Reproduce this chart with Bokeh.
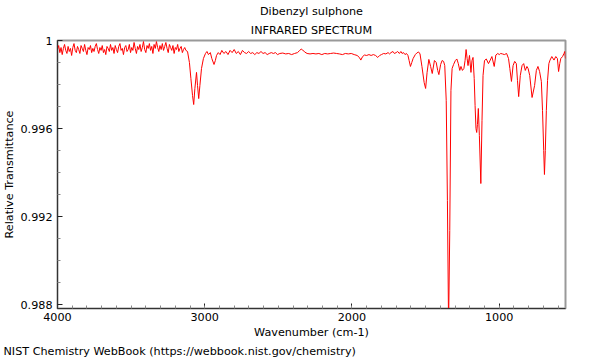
from bokeh.plotting import figure
from bokeh.models import Range1d, FixedTicker, NumeralTickFormatter, Title
from bokeh.embed import file_html
from bokeh.resources import INLINE

# ---- data ----
wavenumber = [
    4000, 3992, 3984, 3976, 3968, 3960, 3952, 3944, 3936, 3928,
    3920, 3912, 3904, 3896, 3888, 3880, 3872, 3864, 3856, 3848,
    3840, 3832, 3824, 3816, 3808, 3800, 3792, 3784, 3776, 3768,
    3760, 3752, 3744, 3736, 3728, 3720, 3712, 3704, 3696, 3688,
    3680, 3672, 3664, 3656, 3648, 3640, 3632, 3624, 3616, 3608,
    3600, 3592, 3584, 3576, 3568, 3560, 3552, 3544, 3536, 3528,
    3520, 3512, 3504, 3496, 3488, 3480, 3472, 3464, 3456, 3448,
    3440, 3432, 3424, 3416, 3408, 3400, 3392, 3384, 3376, 3368,
    3360, 3352, 3344, 3336, 3328, 3320, 3312, 3304, 3296, 3288,
    3280, 3272, 3264, 3256, 3248, 3240, 3232, 3224, 3216, 3208,
    3200, 3192, 3184, 3176, 3168, 3160, 3152, 3144, 3136, 3128,
    3117, 3104, 3094, 3083, 3075, 3067, 3056, 3049, 3041, 3033, 3022, 3009, 2995, 2985, 2975, 2962,
    2952, 2937, 2928, 2920, 2908, 2896,
    2884, 2870, 2856, 2842, 2828, 2814, 2800, 2786, 2772, 2758, 2744, 2730, 2716, 2702, 2688, 2674,
    2660, 2646, 2632, 2618, 2604, 2590, 2576, 2562, 2548, 2534, 2520, 2506,
    2490, 2470, 2450, 2430, 2410, 2390, 2370, 2355, 2345, 2335, 2322, 2305, 2285, 2265, 2245, 2225,
    2205, 2185, 2165, 2145, 2125, 2105, 2085, 2065, 2045, 2025, 2005, 1985, 1965, 1950, 1940, 1928,
    1915, 1900, 1885, 1870, 1855, 1840, 1825, 1812, 1800, 1785, 1770, 1755, 1745, 1735, 1722, 1712,
    1700, 1690, 1678, 1668, 1660, 1650, 1640, 1630, 1620, 1612, 1603, 1594, 1585, 1570, 1560, 1548,
    1538, 1525, 1510, 1500, 1490, 1478, 1466, 1455, 1440, 1428, 1418, 1410, 1398, 1388, 1378, 1370,
    1360, 1352, 1344, 1336, 1328, 1320, 1310, 1298, 1288, 1278, 1268, 1260, 1250, 1240, 1232, 1225,
    1218, 1212, 1202, 1192, 1185, 1178, 1170, 1164, 1158, 1153, 1148, 1142, 1135, 1125, 1117, 1110,
    1100, 1088, 1073, 1061, 1050, 1034, 1023, 1010, 1000, 990, 978, 965, 950, 937, 928, 917,
    906, 895, 884, 876, 868, 857, 845, 834, 823, 812, 804, 793, 777, 760, 748, 737,
    726, 714, 706, 698, 693, 687, 680, 672, 663, 655, 643, 628, 616, 605, 597, 589,
    582, 570, 560, 555, 550,
]
transmittance = [
    0.99959, 0.99977, 0.99945, 0.99968, 0.99936, 0.99964, 0.99982, 0.99955, 0.99941, 0.99973,
    0.99950, 0.99964, 0.99932, 0.99968, 0.99986, 0.99955, 0.99945, 0.99973, 0.99959, 0.99941,
    0.99977, 0.99964, 0.99950, 0.99982, 0.99955, 0.99936, 0.99968, 0.99959, 0.99977, 0.99945,
    0.99964, 0.99950, 0.99973, 0.99986, 0.99959, 0.99941, 0.99968, 0.99955, 0.99977, 0.99945,
    0.99959, 0.99936, 0.99973, 0.99964, 0.99950, 0.99982, 0.99955, 0.99968, 0.99941, 0.99977,
    0.99959, 0.99945, 0.99973, 0.99986, 0.99955, 0.99964, 0.99936, 0.99968, 0.99977, 0.99950,
    0.99959, 0.99982, 0.99945, 0.99968, 0.99955, 0.99991, 0.99964, 0.99941, 0.99973, 0.99959,
    0.99982, 0.99950, 0.99968, 0.99995, 0.99959, 0.99945, 0.99977, 0.99964, 0.99986, 0.99955,
    0.99973, 0.99941, 0.99982, 0.99964, 0.99995, 0.99968, 0.99950, 0.99977, 0.99959, 0.99986,
    0.99955, 0.99973, 0.99991, 0.99964, 0.99945, 0.99982, 0.99968, 0.99955, 0.99977, 0.99941,
    0.99968, 0.99959, 0.99982, 0.99950, 0.99964, 0.99973, 0.99945, 0.99959, 0.99968, 0.99955,
    0.99950, 0.99900, 0.99827, 0.99750, 0.99709, 0.99782, 0.99855, 0.99795, 0.99736, 0.99795, 0.99873, 0.99918, 0.99941, 0.99950, 0.99936, 0.99945,
    0.99918, 0.99891, 0.99909, 0.99932, 0.99945, 0.99936,
    0.99955, 0.99941, 0.99950, 0.99936, 0.99955, 0.99945, 0.99959, 0.99941, 0.99950, 0.99936, 0.99955, 0.99945, 0.99941, 0.99950, 0.99941, 0.99945,
    0.99936, 0.99945, 0.99941, 0.99950, 0.99941, 0.99945, 0.99936, 0.99941, 0.99945, 0.99941, 0.99945, 0.99936,
    0.99941, 0.99943, 0.99939, 0.99941, 0.99936, 0.99941, 0.99945, 0.99955, 0.99961, 0.99957, 0.99948, 0.99941, 0.99939, 0.99941, 0.99939, 0.99941,
    0.99936, 0.99941, 0.99939, 0.99941, 0.99943, 0.99941, 0.99939, 0.99936, 0.99941, 0.99939, 0.99941, 0.99936, 0.99932, 0.99923, 0.99911, 0.99927,
    0.99934, 0.99932, 0.99936, 0.99932, 0.99936, 0.99932, 0.99923, 0.99932, 0.99936, 0.99941, 0.99939, 0.99945, 0.99939, 0.99945, 0.99950, 0.99941,
    0.99945, 0.99950, 0.99941, 0.99950, 0.99941, 0.99945, 0.99936, 0.99941, 0.99932, 0.99909, 0.99882, 0.99900, 0.99918, 0.99936, 0.99943, 0.99948,
    0.99939, 0.99882, 0.99809, 0.99782, 0.99855, 0.99914, 0.99882, 0.99850, 0.99909, 0.99900, 0.99864, 0.99845, 0.99891, 0.99909, 0.99905, 0.99886,
    0.99727, 0.99273, 0.98700, 0.99136, 0.99773, 0.99873, 0.99891, 0.99909, 0.99916, 0.99895, 0.99864, 0.99882, 0.99864, 0.99873, 0.99909, 0.99959,
    0.99918, 0.99886, 0.99932, 0.99855, 0.99909, 0.99923, 0.99827, 0.99705, 0.99600, 0.99582, 0.99618, 0.99691, 0.99568, 0.99350, 0.99636, 0.99841,
    0.99909, 0.99916, 0.99895, 0.99911, 0.99927, 0.99882, 0.99934, 0.99941, 0.99936, 0.99941, 0.99939, 0.99936, 0.99941, 0.99918, 0.99873, 0.99814,
    0.99886, 0.99905, 0.99895, 0.99818, 0.99745, 0.99841, 0.99886, 0.99895, 0.99864, 0.99882, 0.99873, 0.99841, 0.99741, 0.99795, 0.99864, 0.99882,
    0.99859, 0.99814, 0.99682, 0.99500, 0.99391, 0.99500, 0.99682, 0.99818, 0.99895, 0.99911, 0.99927, 0.99911, 0.99927, 0.99918, 0.99859, 0.99895,
    0.99918, 0.99927, 0.99941, 0.99950, 0.99918,
]

x_major_ticks = [4000, 3000, 2000, 1000]
y_major_ticks = [0.988, 0.992, 0.996, 1.0]

title_top = "Dibenzyl sulphone"
title_sub = "INFRARED SPECTRUM"
x_label = "Wavenumber (cm-1)"
y_label = "Relative Transmittance"
footer = "NIST Chemistry WebBook (https://webbook.nist.gov/chemistry)"

FONT = "DejaVu Sans"
FS = "11.2px"

p = figure(
    width=600, height=360,
    x_range=Range1d(4000, 550), y_range=Range1d(0.98782, 1.0),
    output_backend="svg", toolbar_location=None, title=None,
    min_border_left=57, min_border_right=35, min_border_top=40, min_border_bottom=52,
    background_fill_color="white", border_fill_color="white",
)

p.line(wavenumber, transmittance, line_color="#ff0000", line_width=1)

p.grid.visible = False
p.outline_line_color = "#999999"
p.outline_line_width = 2

xt = FixedTicker(ticks=x_major_ticks, minor_ticks=list(range(600, 4000, 100)))
yt = FixedTicker(ticks=y_major_ticks, minor_ticks=[0.989, 0.990, 0.991, 0.993, 0.994, 0.995, 0.997, 0.998, 0.999])
p.xaxis.ticker = xt
p.yaxis.ticker = yt
p.xaxis.formatter = NumeralTickFormatter(format="0")
p.yaxis.formatter = NumeralTickFormatter(format="0.[000]")

for ax in (p.xaxis[0], p.yaxis[0]):
    ax.axis_line_color = "#333333"
    ax.axis_line_width = 1
    ax.major_tick_in = 5
    ax.major_tick_out = 0
    ax.minor_tick_in = 3
    ax.minor_tick_out = 0
    ax.major_tick_line_color = "#222222"
    ax.minor_tick_line_color = "#888888"
    ax.major_label_text_font = FONT
    ax.major_label_text_font_size = FS
    ax.major_label_text_color = "black"
    ax.axis_label_text_font = FONT
    ax.axis_label_text_font_size = FS
    ax.axis_label_text_font_style = "normal"
    ax.axis_label_text_color = "black"

p.xaxis.major_label_standoff = 4
p.yaxis.major_label_standoff = 5
p.xaxis.axis_label = x_label
p.yaxis.axis_label = y_label
p.xaxis.axis_label_standoff = 2
p.yaxis.axis_label_standoff = 1

t1 = Title(text=title_sub, align="center", text_font=FONT, text_font_size=FS,
           text_font_style="normal", text_color="black", standoff=4, padding=2)
t2 = Title(text=title_top, align="center", text_font=FONT, text_font_size=FS,
           text_font_style="normal", text_color="black", standoff=0)
p.add_layout(t1, "above")
p.add_layout(t2, "above")

tf = Title(text=footer, align="left", text_font=FONT, text_font_size=FS,
           text_font_style="normal", text_color="black", offset=-54, standoff=2)
p.add_layout(tf, "below")

open("out.html", "w").write(file_html(p, INLINE))
